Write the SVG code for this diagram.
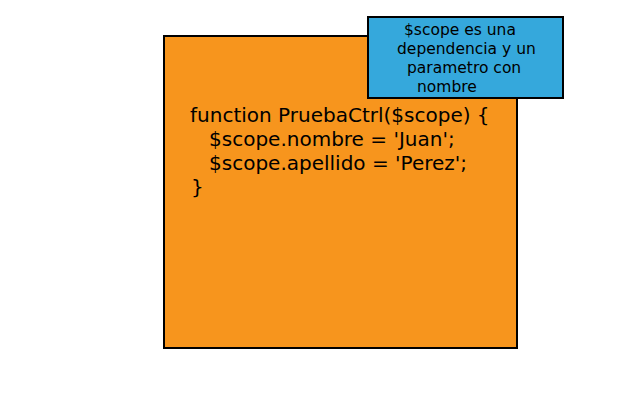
<svg xmlns="http://www.w3.org/2000/svg" width="640" height="400" viewBox="0 0 640 400">
<style>
.box{stroke:#000;stroke-width:2}
.code{font-family:"DejaVu Sans",sans-serif;font-size:20px;fill:#000}
.note{font-family:"DejaVu Sans",sans-serif;font-size:15.5px;fill:#000}
</style>
<rect width="640" height="400" fill="#fff"/>
<g id="code-block">
<rect class="box" x="164" y="36" width="353" height="312" fill="#f7951d"/>
<text class="code" x="190" y="122">function PruebaCtrl($scope) {</text>
<text class="code" x="209" y="146">$scope.nombre = 'Juan';</text>
<text class="code" x="209" y="170">$scope.apellido = 'Perez';</text>
<text class="code" x="191" y="194">}</text>
</g>
<g id="note">
<rect class="box" x="368" y="17" width="195" height="81" fill="#35a8dc"/>
<text class="note" x="404" y="35">$scope es una</text>
<text class="note" x="397" y="54">dependencia y un</text>
<text class="note" x="407" y="73">parametro con</text>
<text class="note" x="417" y="92">nombre</text>
</g>
<g id="connectors"/>
</svg>
